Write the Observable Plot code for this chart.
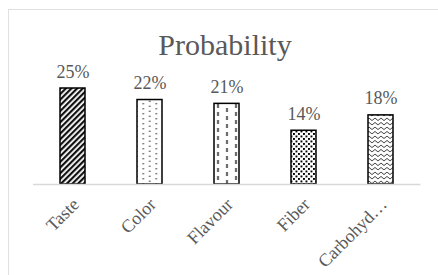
<!DOCTYPE html>
<html>
<head>
<meta charset="utf-8">
<script src="https://cdn.jsdelivr.net/npm/d3@7"></script>
<script src="https://cdn.jsdelivr.net/npm/@observablehq/plot@0.6"></script>
<style>
  html, body { margin: 0; padding: 0; background: #fff; overflow: hidden; }
  #wrap { position: relative; width: 438px; height: 275px; }
  #border { position: absolute; left: 8px; top: 9px; width: 460px; height: 300px; border: 1px solid #e0e0e0; box-sizing: border-box; }
  #title { position: absolute; left: 12px; width: 426px; top: 30px; text-align: center;
           font-family: "Liberation Serif", "Times New Roman", serif; font-size: 30px; line-height: 30px; color: #595959; }
  #chart { position: absolute; left: 0; top: 0; }
</style>
</head>
<body>
<div id="wrap">
  <div id="border"></div>
  <div id="chart"></div>
  <div id="title">Probability</div>
</div>
<script>
const categories = ["Taste", "Color", "Flavour", "Fiber", "Carbohyd…"];
const values = [25, 22, 21, 14, 18];
const valueLabels = ["25%", "22%", "21%", "14%", "18%"];
const patternIds = ["p-diag", "p-dots", "p-dash", "p-confetti", "p-zigzag"];

const data = categories.map((c, i) => ({
  category: c, value: values[i], label: valueLabels[i], fill: `url(#${patternIds[i]})`
}));

const chart = Plot.plot({
  width: 438,
  height: 275,
  marginTop: 88,
  marginBottom: 91,
  marginLeft: 33,
  marginRight: 17.5,
  style: { fontFamily: "'Liberation Serif', 'Times New Roman', serif", color: "#595959", background: "transparent", overflow: "visible" },
  x: { domain: categories, paddingInner: 0.677, paddingOuter: 0.34, label: null },
  y: { domain: [0, 25], axis: null },
  color: { type: "identity" },
  marks: [
    Plot.barY(data, { x: "category", y: "value", fill: "fill", stroke: "#000", strokeWidth: 1.5 }),
    Plot.ruleY([0], { stroke: "#d9d9d9", strokeWidth: 1.5 }),
    Plot.text(data, { x: "category", y: "value", text: "label", dy: -11, fontSize: 18, fill: "#595959", lineAnchor: "bottom" }),
    Plot.axisX({ tickSize: 0, tickRotate: -45, fontSize: 18, tickPadding: 6, dx: 3, dy: 11, label: null, fill: "#595959" })
  ]
});

chart.insertAdjacentHTML("afterbegin", `
<defs>
  <pattern id="p-diag" width="4" height="4" patternUnits="userSpaceOnUse" patternTransform="rotate(45)">
    <rect width="4" height="4" fill="#fff"/><rect width="2.2" height="4" fill="#111"/>
  </pattern>
  <pattern id="p-dots" x="3.5" width="13" height="5" patternUnits="userSpaceOnUse">
    <rect width="13" height="5" fill="#fff"/>
    <circle cx="3.25" cy="1.25" r="0.75" fill="#222"/><circle cx="9.75" cy="3.75" r="0.75" fill="#222"/>
  </pattern>
  <pattern id="p-dash" x="-2.5" width="18" height="8" patternUnits="userSpaceOnUse">
    <rect width="18" height="8" fill="#fff"/>
    <line x1="4.5" y1="0" x2="4.5" y2="4" stroke="#000" stroke-width="1.3"/>
    <line x1="13.5" y1="4" x2="13.5" y2="8" stroke="#000" stroke-width="1.3"/>
  </pattern>
  <pattern id="p-confetti" width="5" height="5" patternUnits="userSpaceOnUse">
    <rect width="5" height="5" fill="#fff"/>
    <rect x="0.5" y="0.5" width="1.9" height="1.9" fill="#000"/>
    <rect x="3" y="3" width="1.9" height="1.9" fill="#000"/>
  </pattern>
  <pattern id="p-zigzag" width="6" height="4.5" patternUnits="userSpaceOnUse">
    <rect width="6" height="4.5" fill="#fff"/>
    <path d="M0,3.5 L3,1 L6,3.5" fill="none" stroke="#000" stroke-width="0.8"/>
  </pattern>
</defs>`);

document.getElementById("chart").appendChild(chart);
</script>
</body>
</html>
